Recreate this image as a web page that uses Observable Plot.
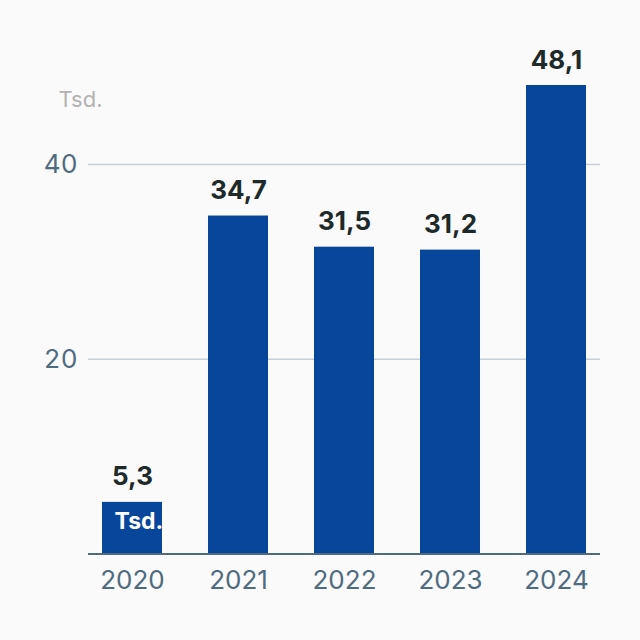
<!DOCTYPE html>
<html>
<head>
<meta charset="utf-8">
<script src="https://cdn.jsdelivr.net/npm/d3@7"></script>
<script src="https://cdn.jsdelivr.net/npm/@observablehq/plot@0.6"></script>
<style>
  html, body { margin: 0; padding: 0; background: #fafafa; }
  #chart { width: 640px; height: 640px; }
  svg { font-family: Inter, "Noto Sans", sans-serif; }
</style>
</head>
<body>
<div id="chart"></div>
<script>
const years = ["2020", "2021", "2022", "2023", "2024"];
const values = [5.3, 34.7, 31.5, 31.2, 48.1];
const yTicks = [20, 40];
const unitLabel = "Tsd.";

const data = years.map((y, i) => ({ year: y, value: values[i], label: values[i].toFixed(1).replace(".", ",") }));

const chart = Plot.plot({
  width: 640,
  height: 640,
  marginLeft: 88,
  marginRight: 40,
  marginTop: 66.5,
  marginBottom: 86.5,
  style: { background: "#fafafa", fontFamily: "Inter, 'Noto Sans', sans-serif" },
  x: { domain: years, paddingInner: 0.438, paddingOuter: 0.117, label: null },
  y: { domain: [0, 50], label: null },
  marks: [
    Plot.ruleY(yTicks, { stroke: "#c5d0d8", strokeWidth: 1.5 }),
    Plot.axisY({ ticks: yTicks, tickSize: 0, tickPadding: 11, fontSize: 26, color: "#4f6b80", label: null }),
    Plot.axisX({ tickSize: 0, tickPadding: 17, fontSize: 26, color: "#4f6b80", label: null }),
    Plot.barY(data, { x: "year", y: "value", fill: "#08469c" }),
    Plot.ruleY([0], { stroke: "#4f6b80", strokeWidth: 2 }),
    Plot.text(data, { x: "year", y: "value", text: "label", lineAnchor: "bottom", dy: -17, fontSize: 26, fontWeight: 700, fill: "#1e2a2a" }),
    Plot.text([data[0]], { x: "year", y: "value", text: () => unitLabel, textAnchor: "start", lineAnchor: "middle", dx: -18, dy: 19, fontSize: 23, fontWeight: 700, fill: "#ffffff" }),
    Plot.text([unitLabel], { frameAnchor: "top-left", text: d => d, textAnchor: "middle", lineAnchor: "middle", dx: -8, dy: 33, fontSize: 22, fill: "#b3b3b3" })
  ]
});
document.getElementById("chart").appendChild(chart);
</script>
</body>
</html>
